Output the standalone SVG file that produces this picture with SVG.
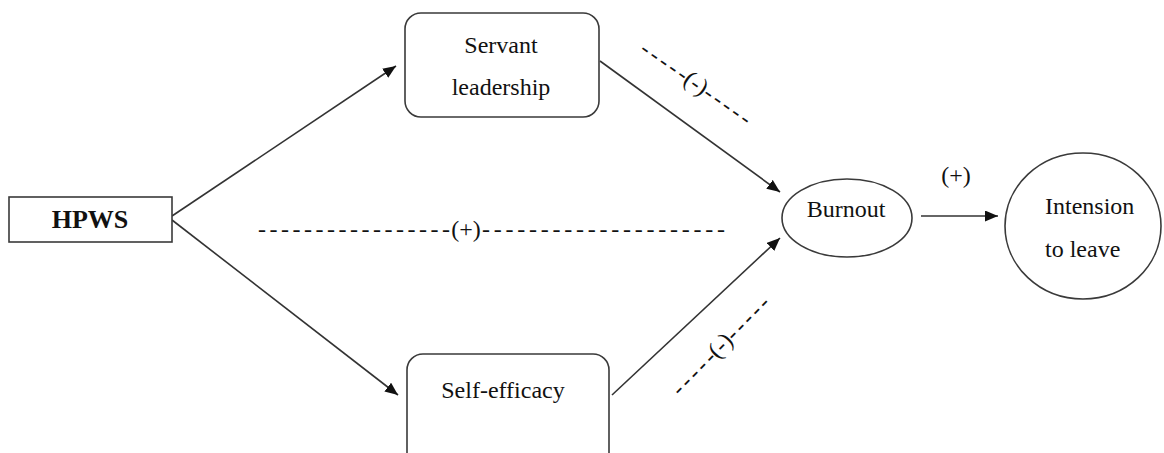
<svg xmlns="http://www.w3.org/2000/svg" width="1164" height="453" viewBox="0 0 1164 453">
<defs>
<marker id="arr" markerUnits="userSpaceOnUse" markerWidth="14" markerHeight="12" refX="13" refY="5.5" orient="auto">
<path d="M0,0 L13,5.5 L0,11 Z" fill="#111"/>
</marker>
<style>
.box{fill:#fff;stroke:#3a3a3a;stroke-width:1.6}
.edge{stroke:#333;stroke-width:1.6;fill:none;marker-end:url(#arr)}
</style>
</defs>
<rect width="1164" height="453" fill="#fff"/>
<g id="connectors">
<line class="edge" x1="172" y1="216" x2="396" y2="66"/>
<line class="edge" x1="172" y1="220" x2="398" y2="395"/>
<line class="edge" x1="600" y1="61" x2="780" y2="192"/>
<line class="edge" x1="612" y1="395" x2="780" y2="238"/>
<line class="edge" x1="921" y1="216" x2="998" y2="216"/>
</g>
<g font-family="Liberation Serif, DejaVu Serif, serif" font-size="24" fill="#111">
<g id="node-hpws">
<rect class="box" x="9" y="197" width="163" height="45"/>
<text x="90" y="228" text-anchor="middle" font-weight="bold" font-size="26">HPWS</text>
</g>
<g id="node-servant">
<rect class="box" x="405" y="13" width="194" height="104" rx="16"/>
<text x="501" y="53" text-anchor="middle">Servant</text>
<text x="501" y="95" text-anchor="middle">leadership</text>
</g>
<g id="node-selfefficacy">
<rect class="box" x="407" y="354" width="202" height="120" rx="16"/>
<text x="503" y="398" text-anchor="middle">Self-efficacy</text>
</g>
<g id="node-burnout">
<ellipse class="box" cx="847" cy="218" rx="65" ry="39"/>
<text x="846" y="217" text-anchor="middle">Burnout</text>
</g>
<g id="node-intension">
<ellipse class="box" cx="1083" cy="226" rx="78" ry="73"/>
<text x="1045" y="214">Intension</text>
<text x="1045" y="257">to leave</text>
</g>
<g id="labels">
<text x="956" y="183" text-anchor="middle">(+)</text>
<text x="258" y="237" textLength="192" lengthAdjust="spacing">-----------------</text>
<text x="466" y="237" text-anchor="middle">(+)</text>
<text x="482" y="237" textLength="243" lengthAdjust="spacing">---------------------</text>
<text transform="translate(695,85) rotate(35)" x="0" y="5.5" text-anchor="middle">(-)</text>
<text transform="translate(695,85) rotate(35)" x="-65" y="5.5" textLength="53" lengthAdjust="spacing">-----</text>
<text transform="translate(695,85) rotate(35)" x="12" y="5.5" textLength="53" lengthAdjust="spacing">-----</text>
<text transform="translate(722,347) rotate(-45.5)" x="0" y="5.5" text-anchor="middle">(-)</text>
<text transform="translate(722,347) rotate(-45.5)" x="-65" y="5.5" textLength="53" lengthAdjust="spacing">-----</text>
<text transform="translate(722,347) rotate(-45.5)" x="12" y="5.5" textLength="53" lengthAdjust="spacing">-----</text>
</g>
</g>
</svg>
